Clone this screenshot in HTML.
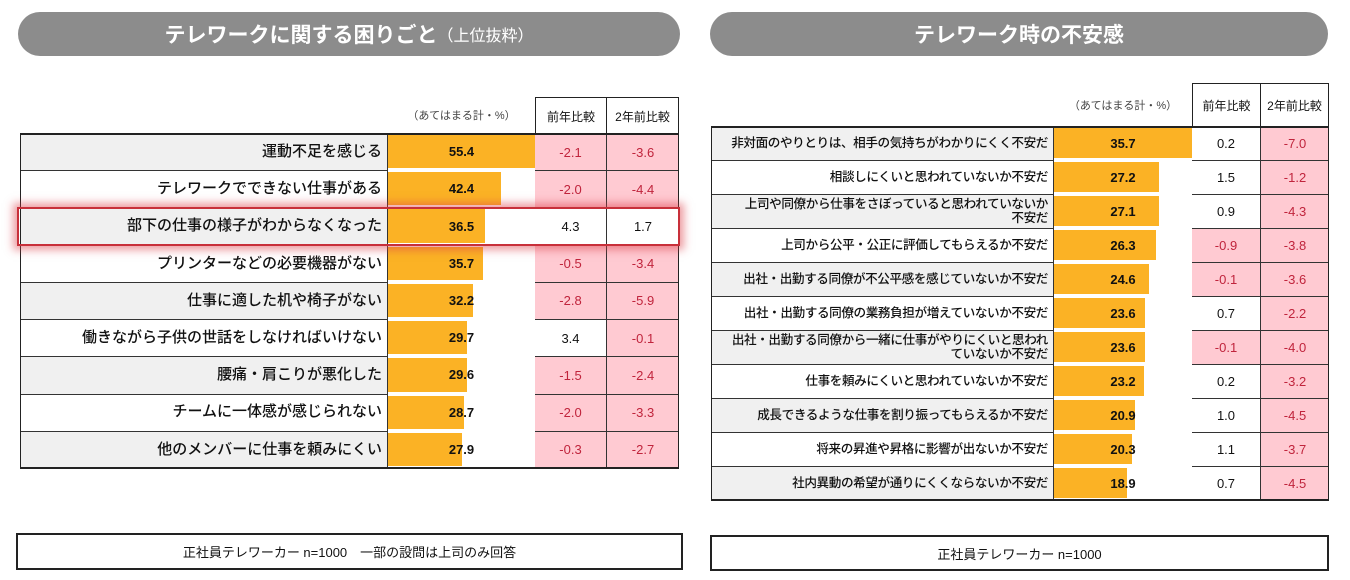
<!DOCTYPE html>
<html><head><meta charset="utf-8">
<style>
body{margin:0;width:1350px;height:580px;background:#fff;position:relative;overflow:hidden;font-family:"Liberation Sans","Noto Sans CJK JP",sans-serif;color:#111}
.abs{position:absolute;box-sizing:border-box}
.pill{background:#8c8c8c;border-radius:22px;color:#fff;font-size:21px;display:flex;align-items:center;justify-content:center;font-weight:bold}
.cell{position:absolute;box-sizing:border-box;display:flex;align-items:center;font-size:13px}
.lab{justify-content:flex-end;padding-right:5px;text-align:right;line-height:1.1;white-space:nowrap}
.num{justify-content:center}
.neg{background:#ffcad2;color:#c0243c}
.foot{border:2px solid #222;display:flex;align-items:center;justify-content:center;font-size:13px}
</style></head><body>
<div class="abs pill" style="left:18px;top:12px;width:662px;height:44px">テレワークに関する困りごと<span style="font-size:16px;font-weight:normal">（上位抜粋）</span></div>
<div class="abs pill" style="left:710px;top:12px;width:618px;height:44px">テレワーク時の不安感</div>
<div id="left"></div>
<div id="right"></div>
<div class="abs foot" style="left:16px;top:533px;width:667px;height:37px">正社員テレワーカー n=1000　一部の設問は上司のみ回答</div>
<div class="abs foot" style="left:710px;top:535px;width:619px;height:36px">正社員テレワーカー n=1000</div>
<script>
const leftLabels=["運動不足を感じる","テレワークでできない仕事がある","部下の仕事の様子がわからなくなった","プリンターなどの必要機器がない","仕事に適した机や椅子がない","働きながら子供の世話をしなければいけない","腰痛・肩こりが悪化した","チームに一体感が感じられない","他のメンバーに仕事を頼みにくい"];
const leftValues=[55.4,42.4,36.5,35.7,32.2,29.7,29.6,28.7,27.9];
const leftYoY=[-2.1,-2.0,4.3,-0.5,-2.8,3.4,-1.5,-2.0,-0.3];
const leftTwoY=[-3.6,-4.4,1.7,-3.4,-5.9,-0.1,-2.4,-3.3,-2.7];
const rightLabels=["非対面のやりとりは、相手の気持ちがわかりにくく不安だ","相談しにくいと思われていないか不安だ","上司や同僚から仕事をさぼっていると思われていないか<br>不安だ","上司から公平・公正に評価してもらえるか不安だ","出社・出勤する同僚が不公平感を感じていないか不安だ","出社・出勤する同僚の業務負担が増えていないか不安だ","出社・出勤する同僚から一緒に仕事がやりにくいと思われ<br>ていないか不安だ","仕事を頼みにくいと思われていないか不安だ","成長できるような仕事を割り振ってもらえるか不安だ","将来の昇進や昇格に影響が出ないか不安だ","社内異動の希望が通りにくくならないか不安だ"];
const rightValues=[35.7,27.2,27.1,26.3,24.6,23.6,23.6,23.2,20.9,20.3,18.9];
const rightYoY=[0.2,1.5,0.9,-0.9,-0.1,0.7,-0.1,0.2,1.0,1.1,0.7];
const rightTwoY=[-7.0,-1.2,-4.3,-3.8,-3.6,-2.2,-4.0,-3.2,-4.5,-3.7,-4.5];

function build(root,cfg,labels,vals,yoy,two){
  const c=cfg;
  const mk=(x,y,w,h,cls,html,name)=>{const d=document.createElement('div');d.className='cell '+cls;d.style.left=x+'px';d.style.top=y+'px';d.style.width=w+'px';d.style.height=h+'px';d.innerHTML=html;
    
    
    root.appendChild(d);return d;};
  const h1=mk(c.x1,c.hy,c.x2-c.x1,c.ty-c.hy,'num','（あてはまる計・%）','header-percent');h1.style.fontSize='11px';h1.style.color='#444';
  const h2=mk(c.x2,c.hy,c.x3-c.x2,c.ty-c.hy+1,'num','前年比較','header-yoy');h2.style.border='1px solid #222';h2.style.borderBottom='none';h2.style.fontSize='12px';
  const h3=mk(c.x3,c.hy,c.x4-c.x3,c.ty-c.hy+1,'num','2年前比較','header-2y');h3.style.border='1px solid #222';h3.style.borderLeft='none';h3.style.borderBottom='none';h3.style.fontSize='12px';
  const n=labels.length,rh=(c.by-c.ty)/n,mx=Math.max(...vals);
  const sc=v=>v/mx*(c.x2-c.x1);
  const fmt=v=>v.toFixed(1);
  for(let i=0;i<n;i++){
    const y=c.ty+i*rh;
    const l=mk(c.x0,y,c.x1-c.x0,rh,'lab','<span>'+labels[i]+'</span>','row-label');l.style.background=i%2==0?'#f0f0f0':'#fff';l.style.fontSize=c.fs+'px';l.style.fontWeight=c.fw;l.style.letterSpacing=c.ls+'px';
    const b=document.createElement('div');b.className='abs';b.style.left=c.x1+'px';b.style.top=(y+2)+'px';b.style.height=(rh-4)+'px';b.style.width=sc(vals[i])+'px';b.style.background='#fbb225';
    
    
    root.appendChild(b);
    const t=mk(c.x1,y,c.x2-c.x1,rh,'num','<b>'+fmt(vals[i])+'</b>','bar-value');t.style.fontSize='13px';
    const a=mk(c.x2,y,c.x3-c.x2,rh,'num'+(yoy[i]<0?' neg':''),fmt(yoy[i]),'yoy-value');
    const z=mk(c.x3,y,c.x4-c.x3,rh,'num'+(two[i]<0?' neg':''),fmt(two[i]),'two-year-value');
    [l,a,z].forEach(e=>{e.style.borderTop='1px solid #333';});
    l.style.borderRight='1px solid #333';a.style.borderRight='1px solid #333';
  }
  const f=document.createElement('div');f.className='abs';f.style.left=c.x0+'px';f.style.top=c.ty+'px';f.style.width=(c.x4-c.x0)+'px';f.style.height=(c.by-c.ty+1)+'px';f.style.border='1px solid #222';f.style.borderTop='2px solid #222';f.style.borderBottom='2px solid #222';
  
  
  root.appendChild(f);
}
build(document.getElementById('left'),{x0:20,x1:388,x2:535,x3:607,x4:679,hy:97,ty:133,by:468,fs:15,fw:500,ls:0},leftLabels,leftValues,leftYoY,leftTwoY);
build(document.getElementById('right'),{x0:711,x1:1054,x2:1192,x3:1261,x4:1329,hy:83,ty:126,by:500,fs:12.6,fw:500,ls:-0.4},rightLabels,rightValues,rightYoY,rightTwoY);
const hl=document.createElement('div');hl.className='abs';


hl.style.cssText+='left:17px;top:207px;width:663px;height:39px;border:2px solid #c8303a;box-shadow:0 0 8px 4px rgba(220,60,70,0.5);';
document.body.appendChild(hl);
</script>
</body></html>
